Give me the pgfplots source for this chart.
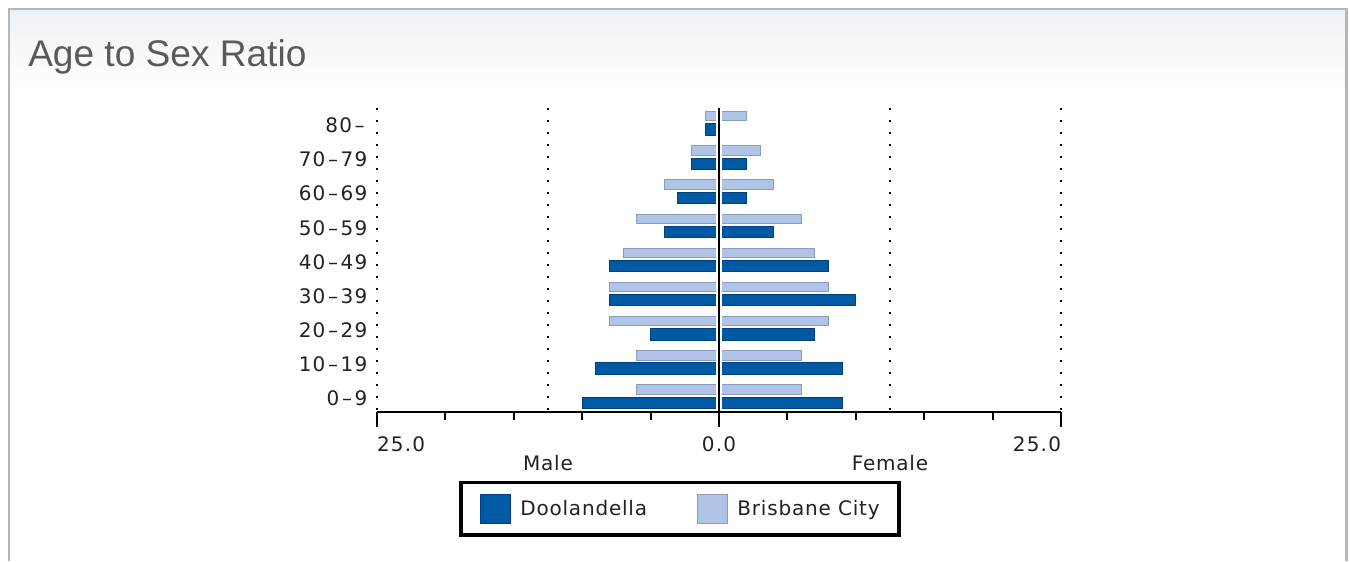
\documentclass[border=0pt]{standalone}
\usepackage{pgfplots}
\pgfplotsset{compat=1.18}
\usepackage{fontspec}
\setmainfont{DejaVu Sans}
\newfontfamily\titlefont{Liberation Sans}
\newfontfamily\tickfont[LetterSpace=6]{DejaVu Sans}
\newfontfamily\legfont[LetterSpace=4]{DejaVu Sans}
\newcommand\dd{\makebox[11.5pt]{–}}
\definecolor{darkbar}{HTML}{0059A3}
\definecolor{darkedge}{HTML}{00407E}
\definecolor{lightbar}{HTML}{B0C4E8}
\definecolor{lightedge}{HTML}{8C9CBA}
\definecolor{framegray}{HTML}{B4B6BC}
\definecolor{titlegray}{HTML}{5A5A5A}
\definecolor{headtop}{HTML}{EDF1F4}
\definecolor{txt}{HTML}{222222}
\begin{document}
\begin{tikzpicture}
\begin{scope}[x=0.75pt,y=-0.75pt]
\path[use as bounding box] (0,0) rectangle (1350,561);
\fill[white] (0,0) rectangle (1350,561);
\shade[top color=headtop, bottom color=white] (9,9) rectangle (1346,90);
\draw[framegray, line width=1.9pt] (9,561) -- (9,9) -- (1346.5,9) -- (1346.5,561);
\node[anchor=base west, inner sep=0pt, font=\titlefont\fontsize{27.8}{32}\selectfont, text=titlegray] at (28,66) {Age to Sex Ratio};
\end{scope}
\begin{axis}[
  at={(282.75pt,-309pt)}, anchor=south west,
  scale only axis, width=513pt, height=228pt,
  xmin=-25, xmax=25, ymin=-0.45, ymax=8.45,
  clip=false, axis on top,
  axis x line*=bottom, axis y line*=left,
  x axis line style={-, line width=1.7pt},
  y axis line style={draw=none},
  xtick={-25,0,25},
  xticklabels={{\makebox[0pt][l]{25.0}},{0.0},{\makebox[0pt][r]{25.0}}},
  minor xtick={-20,-15,-10,-5,5,10,15,20},
  xtick align=outside,
  major tick length=11pt, minor tick length=6pt,
  xtick style={black, line width=1.5pt},
  xticklabel style={anchor=north, inner sep=0pt, yshift=-7pt, font=\tickfont\fontsize{15}{18}\selectfont, text=txt},
  ytick={0,...,8},
  yticklabels={0\dd9,10\dd19,20\dd29,30\dd39,40\dd49,50\dd59,60\dd69,70\dd79,80\dd},
  ytick style={draw=none},
  yticklabel style={anchor=east, inner sep=0pt, xshift=-7pt, yshift=-1.5pt, font=\tickfont\fontsize{15}{18}\selectfont, text=txt},
  legend columns=2,
  legend cell align=left,
  legend style={at={(0.12,-0.227)}, anchor=north west, draw=black, line width=2.6pt, fill=white,
    inner xsep=14.4pt, inner ysep=8.4pt, font=\legfont\fontsize{15}{18}\selectfont, text=txt,
    nodes={inner sep=0pt},
    /tikz/every odd column/.append style={column sep=7pt},
    /tikz/every even column/.append style={column sep=37.5pt}},
  legend image code/.code={\draw[#1, line width=0.75pt] (0pt,-10.9pt) rectangle (22.5pt,10.9pt);},
]
% Doolandella, male (negative) and female
\addplot[xbar, bar width=8.5pt, bar shift=-4.6pt, fill=darkbar, draw=darkedge, line width=0.75pt]
  coordinates {(-10,0) (-9,1) (-5,2) (-8,3) (-8,4) (-4,5) (-3,6) (-2,7) (-1,8)};
\addlegendentry{Doolandella}
\addplot[xbar, bar width=8.5pt, bar shift=-4.6pt, fill=darkbar, draw=darkedge, line width=0.75pt, forget plot]
  coordinates {(9,0) (9,1) (7,2) (10,3) (8,4) (4,5) (2,6) (2,7) (0,8)};
% Brisbane City, male and female
\addplot[xbar, bar width=7pt, bar shift=5.3pt, fill=lightbar, draw=lightedge, line width=0.75pt]
  coordinates {(-6,0) (-6,1) (-8,2) (-8,3) (-7,4) (-6,5) (-4,6) (-2,7) (-1,8)};
\addlegendentry{Brisbane City}
\addplot[xbar, bar width=7pt, bar shift=5.3pt, fill=lightbar, draw=lightedge, line width=0.75pt, forget plot]
  coordinates {(6,0) (6,1) (8,2) (8,3) (7,4) (6,5) (4,6) (3,7) (2,8)};
\fill[white] (axis cs:-0.22,-0.40) rectangle (axis cs:0.22,8.45);
\draw[black, line width=1.5pt] (axis cs:0,8.45) -- (axis cs:0,-0.45);
\draw[black, line width=1.5pt, dash pattern=on 1.5pt off 7.5pt] (axis cs:-25,8.45) -- (axis cs:-25,-0.45);
\draw[black, line width=1.5pt, dash pattern=on 1.5pt off 7.5pt] (axis cs:-12.5,8.45) -- (axis cs:-12.5,-0.45);
\draw[black, line width=1.5pt, dash pattern=on 1.5pt off 7.5pt] (axis cs:12.5,8.45) -- (axis cs:12.5,-0.45);
\draw[black, line width=1.5pt, dash pattern=on 1.5pt off 7.5pt] (axis cs:25,8.45) -- (axis cs:25,-0.45);
\node[font=\legfont\fontsize{15}{18}\selectfont, text=txt, inner sep=0pt, yshift=-38.25pt] at (axis cs:-12.5,-0.45) {Male};
\node[font=\legfont\fontsize{15}{18}\selectfont, text=txt, inner sep=0pt, yshift=-38.25pt] at (axis cs:12.5,-0.45) {Female};
\end{axis}
\end{tikzpicture}
\end{document}
